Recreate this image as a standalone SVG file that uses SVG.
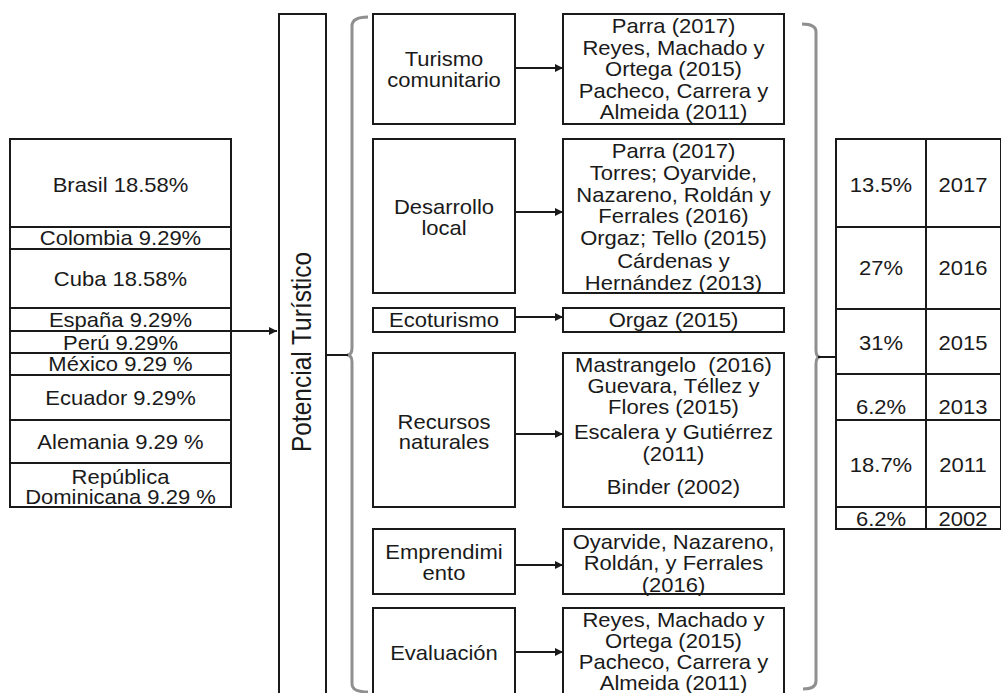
<svg xmlns="http://www.w3.org/2000/svg" width="1001" height="693" viewBox="0 0 1001 693">
<style>
.box{fill:#fff;stroke:#1a1a1a;stroke-width:2}
.t{font-family:"Liberation Sans",Arial,sans-serif;font-size:20px;fill:#1a1a1a;text-anchor:middle;transform-box:fill-box;transform-origin:center;transform:scaleX(1.1)}
.rt{font-family:"Liberation Sans",Arial,sans-serif;font-size:24.5px;fill:#1a1a1a;text-anchor:middle}
.ln{stroke:#1a1a1a;stroke-width:2;fill:none}
.brace{stroke:#8f8f8f;stroke-width:3;fill:none}
</style>
<defs>
<marker id="ah" viewBox="0 0 10 10" refX="10" refY="5" markerWidth="10" markerHeight="8" markerUnits="userSpaceOnUse" orient="auto">
<path d="M0,0 L10,5 L0,10 z" fill="#1a1a1a"/>
</marker>
</defs>
<rect width="1001" height="693" fill="#fff"/>

<g id="paises">
<rect class="box" x="10" y="139" width="221" height="88"/><text class="t" x="120.5" y="192">Brasil 18.58%</text>
<rect class="box" x="10" y="227" width="221" height="22"/><text class="t" x="120.5" y="245">Colombia 9.29%</text>
<rect class="box" x="10" y="249" width="221" height="59"/><text class="t" x="120.5" y="286">Cuba 18.58%</text>
<rect class="box" x="10" y="308" width="221" height="23"/><text class="t" x="120.5" y="327">España 9.29%</text>
<rect class="box" x="10" y="331" width="221" height="22"/><text class="t" x="120.5" y="350">Perú 9.29%</text>
<rect class="box" x="10" y="353" width="221" height="22"/><text class="t" x="120.5" y="371">México 9.29 %</text>
<rect class="box" x="10" y="375" width="221" height="45"/><text class="t" x="120.5" y="405">Ecuador 9.29%</text>
<rect class="box" x="10" y="420" width="221" height="43"/><text class="t" x="120.5" y="449">Alemania 9.29 %</text>
<rect class="box" x="10" y="463" width="221" height="44"/><text class="t" x="120.5" y="484">República</text><text class="t" x="120.5" y="504">Dominicana 9.29 %</text>
</g>

<g id="potencial">
<rect class="box" x="279" y="14" width="47" height="690"/>
<text class="rt" transform="translate(311,352) scale(1.15,1) rotate(-90)">Potencial Turístico</text>
</g>

<g id="turismo">
<rect class="box" x="373" y="14" width="142" height="110"/>
<text class="t" x="444" y="66">Turismo</text><text class="t" x="444" y="87">comunitario</text>
</g>
<g id="desarrollo">
<rect class="box" x="373" y="139" width="142" height="154"/>
<text class="t" x="444" y="214">Desarrollo</text><text class="t" x="444" y="235">local</text>
</g>
<g id="ecoturismo">
<rect class="box" x="373" y="308" width="142" height="24"/>
<text class="t" x="444" y="327">Ecoturismo</text>
</g>
<g id="recursos">
<rect class="box" x="373" y="353" width="142" height="154"/>
<text class="t" x="444" y="429">Recursos</text><text class="t" x="444" y="449">naturales</text>
</g>
<g id="emprendimiento">
<rect class="box" x="373" y="529" width="142" height="65"/>
<text class="t" x="444" y="559">Emprendimi</text><text class="t" x="444" y="580">ento</text>
</g>
<g id="evaluacion">
<rect class="box" x="373" y="608" width="142" height="96"/>
<text class="t" x="444" y="660">Evaluación</text>
</g>

<g id="ref-turismo">
<rect class="box" x="563" y="14" width="221" height="110"/>
<text class="t" x="673.5" y="33">Parra (2017)</text>
<text class="t" x="673.5" y="55">Reyes, Machado y</text>
<text class="t" x="673.5" y="76">Ortega (2015)</text>
<text class="t" x="673.5" y="98">Pacheco, Carrera y</text>
<text class="t" x="673.5" y="119">Almeida (2011)</text>
</g>
<g id="ref-desarrollo">
<rect class="box" x="563" y="139" width="221" height="154"/>
<text class="t" x="673.5" y="158">Parra (2017)</text>
<text class="t" x="673.5" y="180">Torres; Oyarvide,</text>
<text class="t" x="673.5" y="202">Nazareno, Roldán y</text>
<text class="t" x="673.5" y="223">Ferrales (2016)</text>
<text class="t" x="673.5" y="245">Orgaz; Tello (2015)</text>
<text class="t" x="673.5" y="268">Cárdenas y</text>
<text class="t" x="673.5" y="290">Hernández (2013)</text>
</g>
<g id="ref-ecoturismo">
<rect class="box" x="563" y="308" width="221" height="24"/>
<text class="t" x="673.5" y="327">Orgaz (2015)</text>
</g>
<g id="ref-recursos">
<rect class="box" x="563" y="353" width="221" height="154"/>
<text class="t" x="673.5" y="372" xml:space="preserve">Mastrangelo  (2016)</text>
<text class="t" x="673.5" y="393">Guevara, Téllez y</text>
<text class="t" x="673.5" y="414">Flores (2015)</text>
<text class="t" x="673.5" y="439">Escalera y Gutiérrez</text>
<text class="t" x="673.5" y="461">(2011)</text>
<text class="t" x="673.5" y="494">Binder (2002)</text>
</g>
<g id="ref-emprendimiento">
<rect class="box" x="563" y="529" width="221" height="65"/>
<text class="t" x="673.5" y="549">Oyarvide, Nazareno,</text>
<text class="t" x="673.5" y="570">Roldán, y Ferrales</text>
<text class="t" x="673.5" y="592">(2016)</text>
</g>
<g id="ref-evaluacion">
<rect class="box" x="563" y="608" width="221" height="96"/>
<text class="t" x="673.5" y="627">Reyes, Machado y</text>
<text class="t" x="673.5" y="648">Ortega (2015)</text>
<text class="t" x="673.5" y="669">Pacheco, Carrera y</text>
<text class="t" x="673.5" y="690">Almeida (2011)</text>
</g>

<g id="anios">
<rect class="box" x="836" y="139" width="90" height="88"/><rect class="box" x="926" y="139" width="75" height="88"/>
<text class="t" x="881" y="192">13.5%</text><text class="t" x="963" y="192">2017</text>
<rect class="box" x="836" y="227" width="90" height="82"/><rect class="box" x="926" y="227" width="75" height="82"/>
<text class="t" x="881" y="275">27%</text><text class="t" x="963" y="275">2016</text>
<rect class="box" x="836" y="309" width="90" height="65"/><rect class="box" x="926" y="309" width="75" height="65"/>
<text class="t" x="881" y="350">31%</text><text class="t" x="963" y="350">2015</text>
<rect class="box" x="836" y="374" width="90" height="46"/><rect class="box" x="926" y="374" width="75" height="46"/>
<text class="t" x="881" y="414">6.2%</text><text class="t" x="963" y="414">2013</text>
<rect class="box" x="836" y="420" width="90" height="87"/><rect class="box" x="926" y="420" width="75" height="87"/>
<text class="t" x="881" y="472">18.7%</text><text class="t" x="963" y="472">2011</text>
<rect class="box" x="836" y="507" width="90" height="22"/><rect class="box" x="926" y="507" width="75" height="22"/>
<text class="t" x="881" y="526">6.2%</text><text class="t" x="963" y="526">2002</text>
</g>

<g id="conectores">
<line class="ln" x1="231" y1="331" x2="277" y2="331" marker-end="url(#ah)"/>
<line class="ln" x1="515" y1="68" x2="563" y2="68" marker-end="url(#ah)"/>
<line class="ln" x1="515" y1="212" x2="563" y2="212" marker-end="url(#ah)"/>
<line class="ln" x1="515" y1="317" x2="563" y2="317" marker-end="url(#ah)"/>
<line class="ln" x1="515" y1="434" x2="563" y2="434" marker-end="url(#ah)"/>
<line class="ln" x1="515" y1="565" x2="563" y2="565" marker-end="url(#ah)"/>
<line class="ln" x1="515" y1="652" x2="563" y2="652" marker-end="url(#ah)"/>
<path class="brace" d="M368,17 Q352,17 352,26 L352,348 Q352,355 347,355 Q352,355 352,362 L352,684 Q352,692 368,692"/>
<line class="ln" x1="326" y1="355" x2="348" y2="355"/>
<path class="brace" d="M802,24 Q816,24 816,32 L816,350 Q816,357 820,357 Q816,357 816,364 L816,681 Q816,689 803,689"/>
<line class="ln" x1="818" y1="357" x2="836" y2="357"/>
</g>
</svg>
